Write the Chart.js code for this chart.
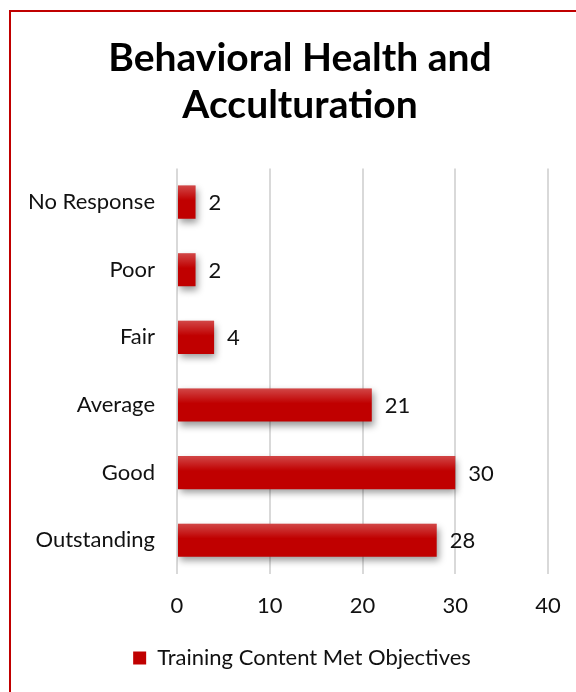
<!DOCTYPE html>
<html>
<head>
<meta charset="utf-8">
<script src="https://cdn.jsdelivr.net/npm/chart.js@4"></script>
<style>
  html, body { margin: 0; padding: 0; background: #fff; overflow: hidden; }
  #wrap { position: absolute; left: 0; top: 0; width: 600px; height: 692px; }
</style>
</head>
<body>
<div id="wrap"><canvas id="chartBase" width="600" height="692"></canvas></div>
<script>
const categorias = ["No Response", "Poor", "Fair", "Average", "Good", "Outstanding"];
const valores = [2, 2, 4, 21, 30, 28];
const serie = "Training Content Met Objectives";
const tituloLineas = ["Behavioral Health and", "Acculturation"];
const ticksX = [0, 10, 20, 30, 40];

const FUENTE = "Lato, 'Open Sans', sans-serif";
const ROJO = "#c00000";

// borde rojo del cuadro (solo arriba e izquierda se ven)
const bordePlugin = {
  id: "borde",
  afterDraw(chart) {
    const ctx = chart.ctx;
    ctx.save();
    ctx.strokeStyle = ROJO;
    ctx.lineWidth = 2;
    ctx.beginPath();
    ctx.moveTo(10, 700);
    ctx.lineTo(10, 11);
    ctx.lineTo(700, 11);
    ctx.stroke();
    ctx.restore();
  }
};

// el cuadro original es más ancho que la captura: centrar título y leyenda en él
const centrarPlugin = {
  id: "centrar",
  afterLayout(chart) {
    if (chart.titleBlock) {
      chart.titleBlock.left += 26;
      chart.titleBlock.right += 26;
    }
    if (chart.legend) {
      chart.legend.left += 28;
      chart.legend.right += 28;
    }
  }
};

// sombra debajo de las barras + brillo arriba
const sombraPlugin = {
  id: "sombra",
  beforeDatasetsDraw(chart) {
    const ctx = chart.ctx;
    ctx.save();
    ctx.shadowColor = "rgba(0,0,0,0.4)";
    ctx.shadowBlur = 7;
    ctx.shadowOffsetX = 2;
    ctx.shadowOffsetY = 4;
  },
  afterDatasetsDraw(chart) {
    const ctx = chart.ctx;
    ctx.restore();
    const meta = chart.getDatasetMeta(0);
    meta.data.forEach(function (bar) {
      const top = bar.y - bar.height / 2;
      const left = Math.min(bar.base, bar.x);
      const w = Math.abs(bar.x - bar.base);
      const g = ctx.createLinearGradient(0, top, 0, top + bar.height * 0.45);
      g.addColorStop(0, "rgba(255,255,255,0.28)");
      g.addColorStop(1, "rgba(255,255,255,0)");
      ctx.save();
      ctx.fillStyle = g;
      ctx.fillRect(left, top, w, bar.height * 0.45);
      ctx.restore();
    });
  }
};

// etiquetas de valor al final de cada barra
const etiquetasPlugin = {
  id: "etiquetas",
  afterDraw(chart) {
    const ctx = chart.ctx;
    const meta = chart.getDatasetMeta(0);
    ctx.save();
    ctx.font = "22px " + FUENTE;
    ctx.fillStyle = "#111";
    ctx.textAlign = "left";
    ctx.textBaseline = "middle";
    meta.data.forEach(function (bar, i) {
      ctx.fillText(String(valores[i]), bar.x + 13, bar.y + 1);
    });
    ctx.restore();
  }
};

const ctx = document.getElementById("chartBase").getContext("2d");

new Chart(ctx, {
  type: "bar",
  data: {
    labels: categorias,
    datasets: [{
      label: serie,
      data: valores,
      backgroundColor: ROJO,
      borderWidth: 0,
      barPercentage: 0.49,
      categoryPercentage: 1
    }]
  },
  plugins: [centrarPlugin, sombraPlugin, etiquetasPlugin, bordePlugin],
  options: {
    indexAxis: "y",
    responsive: false,
    animation: false,
    devicePixelRatio: 1,
    layout: { padding: { left: 0, right: 52, top: 0, bottom: 13 } },
    plugins: {
      title: {
        display: true,
        text: tituloLineas,
        color: "#000",
        font: { family: FUENTE, size: 39, weight: "bold", lineHeight: 1.21 },
        padding: { top: 35, bottom: 39 }
      },
      legend: {
        display: true,
        position: "bottom",
        labels: {
          color: "#111",
          font: { family: FUENTE, size: 22 },
          boxWidth: 13,
          boxHeight: 13,
          padding: 10
        }
      },
      tooltip: { enabled: false }
    },
    scales: {
      x: {
        min: 0,
        max: 40,
        afterBuildTicks: function (scale) {
          scale.ticks = ticksX.map(function (v) { return { value: v }; });
        },
        afterFit: function (scale) { scale.height = 63; },
        grid: { color: "#d9d9d9", lineWidth: 2, drawTicks: false },
        border: { display: false },
        ticks: {
          color: "#111",
          font: { family: FUENTE, size: 22 },
          padding: 19
        }
      },
      y: {
        afterFit: function (scale) { scale.width = 177; },
        grid: { display: false, drawTicks: false },
        border: { display: false },
        ticks: {
          color: "#111",
          font: { family: FUENTE, size: 22 },
          padding: 22
        }
      }
    }
  }
});
</script>
</body>
</html>
